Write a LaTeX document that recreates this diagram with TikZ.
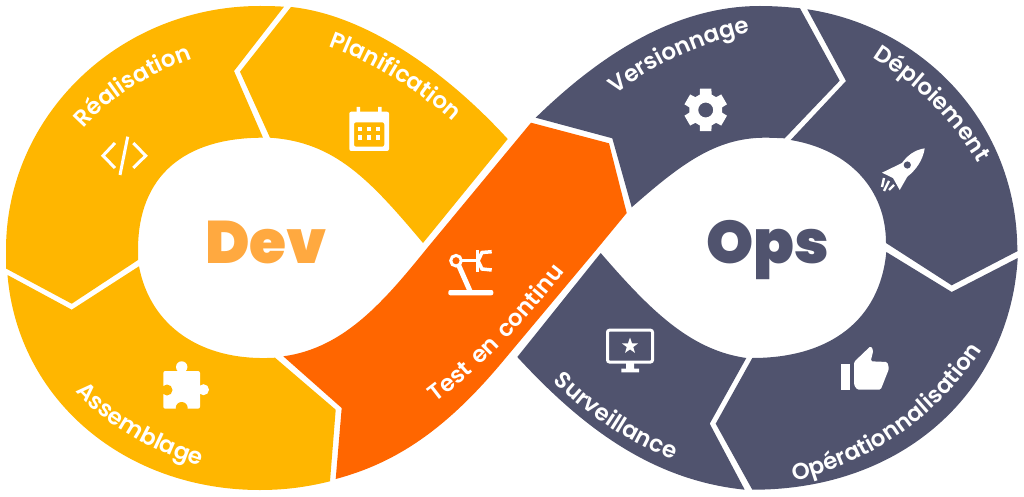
\documentclass[tikz,border=0pt]{standalone}
\usepackage{fontspec}
\usetikzlibrary{decorations.text}
\newfontfamily\labelfont{Poppins SemiBold}[LetterSpace=12]
\newfontfamily\titlefont{Poppins}[BoldFont=Poppins Black]
\definecolor{devyellow}{HTML}{FFB600}
\definecolor{testorange}{HTML}{FF6600}
\definecolor{opsslate}{HTML}{50536E}
\definecolor{devtitle}{HTML}{FFA940}
\tikzset{
    curvedlabel/.style={decorate, decoration={text along path,
        text={|\fontsize{23}{23}\labelfont\color{white}|#1}, text align=center}},
    titletext/.style={anchor=base, font=\fontsize{60}{60}\titlefont\bfseries},
    iconline/.style={draw=white, line width=3.5pt},
    iconfill/.style={fill=white}
}

\begin{document}
\begin{tikzpicture}[x=1pt, y=-1pt]
        \useasboundingbox (0, 0) rectangle (1024, 497);
        % Dev side
        \fill[devyellow] (6, 268.5) -- (71.7, 303.7) -- (138, 260) -- (138, 250)
            .. controls (138, 175) and (185, 137.7) .. (263, 137.7)
            -- (234, 71) -- (284, 6.7)
            .. controls (276, 6.2) and (268, 6) .. (260, 6)
            .. controls (120, 6) and (6, 115) .. (6, 250) -- cycle;
        \fill[devyellow] (291, 7) .. controls (360, 14) and (440, 65) .. (507.7, 139)
            -- (423, 243)
            .. controls (370, 180) and (335, 142) .. (270, 137.7)
            -- (240, 71.7) -- cycle;
        \fill[devyellow] (7.5, 275) -- (71.7, 309.7) -- (139, 266.3)
            .. controls (150, 325) and (200, 362) .. (275, 357.7)
            -- (335.7, 409.7) -- (330, 481.3)
            .. controls (307, 487) and (285, 490) .. (260, 490)
            .. controls (125, 490) and (18, 400) .. (7.5, 275) -- cycle;
        % Test
        \fill[testorange] (531, 122.7) -- (609, 143.3) -- (626.7, 213) -- (597, 249)
            -- (504, 360)
            .. controls (450, 425) and (400, 462) .. (335.7, 479)
            -- (341.7, 408) -- (283.3, 356.3)
            .. controls (345, 348) and (385, 300) .. (428, 247) -- cycle;
        % Ops side
        \fill[opsslate] (535.7, 117.7) .. controls (600, 55) and (675, 6) .. (760, 6)
            .. controls (774, 6) and (787, 7) .. (800, 8.3)
            -- (839.7, 80.7) -- (784.7, 138.3)
            .. controls (777, 138) and (771, 137.7) .. (765, 137.7)
            .. controls (715, 137.7) and (680, 165) .. (631.7, 207.3)
            -- (612.3, 138.3) -- cycle;
        \fill[opsslate] (807.3, 9.3) .. controls (925, 27) and (1017, 125) .. (1017.3, 250)
            -- (1017.7, 251) -- (951.7, 285.3) -- (886, 243)
            .. controls (886, 190) and (850, 150) .. (790.7, 140)
            -- (846, 81) -- cycle;
        \fill[opsslate] (1017.7, 258) -- (951.7, 292) -- (886.3, 252)
            .. controls (880, 320) and (830, 358) .. (752.3, 358)
            -- (715.7, 423.7) -- (752.3, 489.7)
            .. controls (905, 490) and (1010, 390) .. (1017.7, 258) -- cycle;
        \fill[opsslate] (600.7, 253) -- (517.3, 357)
            .. controls (580, 425) and (650, 480) .. (744.7, 489.7)
            -- (709.7, 423.7) -- (746.3, 358)
            .. controls (690, 350) and (650, 310) .. (600.7, 253) -- cycle;
        % titles
        \node[titletext, text=devtitle] (dev) at (266, 263) {Dev};
        \node[titletext, text=opsslate] (ops) at (768, 263) {Ops};
        % curved labels
        \path[curvedlabel={Réalisation}] (58, 165) .. controls (90, 105) and (150, 68) .. (235, 45);
        \path[curvedlabel={Planification}] (280, 33) .. controls (355, 47) and (435, 95) .. (488, 158);
        \path[curvedlabel={Assemblage}] (52, 360) .. controls (88, 420) and (155, 458) .. (238, 476);
        \path[curvedlabel={Test en continu}] (409, 421) .. controls (466, 386) and (529, 321) .. (584, 246);
        \path[curvedlabel={Versionnage}] (585, 120) .. controls (650, 60) and (720, 33) .. (790, 26);
        \path[curvedlabel={Déploiement}] (828, 33) .. controls (912, 72) and (975, 135) .. (998, 210);
        \path[curvedlabel={Surveillance}] (530, 357) .. controls (580, 415) and (640, 452) .. (705, 470);
        \path[curvedlabel={Opérationnalisation}] (760, 487) .. controls (860, 475) and (950, 415) .. (1000, 320);
        % code icon
        \draw[iconline, line width=3pt] (115, 143) -- (103, 155.7) -- (115, 168);
        \draw[iconline, line width=3pt] (127.7, 136.7) -- (120, 175);
        \draw[iconline, line width=3pt] (133.3, 143) -- (145.7, 155.7) -- (133.3, 168);
        % calendar icon
        \fill[iconfill, rounded corners=2pt, even odd rule] (349.3, 111.7) rectangle (389, 151)
            (354, 122.3) rectangle (384.3, 146.7);
        \fill[iconfill] (356.5, 107) rectangle (360, 112) (378, 107) rectangle (381.5, 112);
        \foreach \cx in {360, 369, 377.7}
            \foreach \cy in {129, 137.7}
                \fill[iconfill] (\cx-2.2, \cy-2.2) rectangle (\cx+2.2, \cy+2.2);
        % puzzle icon
        \fill[iconfill, rounded corners=2pt] (163.3, 371) rectangle (200, 408.7);
        \fill[iconfill] (181.7, 367) circle (5.7) (203.5, 389.7) circle (5.5);
        \fill[devyellow] (167, 390) circle (5.5) (181.7, 408) circle (6);
        % robot icon
        \fill[iconfill, rounded corners=2pt] (448.3, 295.3) -- (448.3, 290) -- (493.3, 290) -- (493.3, 295.3) -- cycle;
        \draw[iconline, line width=5pt] (459, 266) -- (470, 291);
        \draw[white, line width=3pt] (456, 260.7) circle (5.3);
        \draw[iconline] (461, 260.7) -- (477, 260.7);
        \draw[iconline] (477.5, 250) -- (477.5, 271.5);
        \draw[iconline] (491.7, 251.7) -- (482, 252.5) -- (478, 260.7) -- (482, 269) -- (491.7, 270);
        % gear icon
        \coordinate (gear) at (705.7, 110);
        \fill[iconfill, even odd rule, shift={(gear)}] (75:22)
            foreach \ang in {90, 150, 210, 270, 330, 390} {-- (\ang-15:22) -- (\ang+15:22) -- (\ang+21:16.5) -- (\ang+39:16.5)}
            -- cycle (0, 0) circle (7.5);
        % rocket icon
        \fill[iconfill] (924.7, 148.3) .. controls (914, 150) and (907, 156) .. (902, 163)
            -- (882, 172.7) -- (893, 178) -- (899.7, 190) -- (907.3, 176.7)
            .. controls (916, 170) and (923, 160) .. (924.7, 148.3) -- cycle;
        \fill[opsslate] (907.3, 165) circle (3.6);
        \draw[white, line width=2.4pt] (884, 178) -- (882, 187) (889, 181) -- (884, 191) (894, 185) -- (889, 190);
        % monitor icon
        \draw[white, line width=3pt, rounded corners=2pt] (607.5, 330.2) rectangle (652.5, 362);
        \fill[iconfill] (626, 363) rectangle (634, 369) (621.3, 368.7) rectangle (639, 372.3);
        \fill[iconfill, shift={(630, 346)}] (-90:8.5)
            -- (-54:3.4) -- (-18:8.5) -- (18:3.4) -- (54:8.5) -- (90:3.4)
            -- (126:8.5) -- (162:3.4) -- (198:8.5) -- (234:3.4) -- cycle;
        % thumb icon
        \fill[iconfill] (840.7, 363.7) rectangle (849.7, 389.7);
        \fill[iconfill, rounded corners=1.5pt] (854, 362) -- (870.7, 346) -- (873.3, 350.3) -- (870.7, 361.3)
            -- (887.3, 362) -- (889, 368.7) -- (880.7, 389.7) -- (857.3, 389.7) -- (854, 385) -- cycle;
\end{tikzpicture}
\end{document}
